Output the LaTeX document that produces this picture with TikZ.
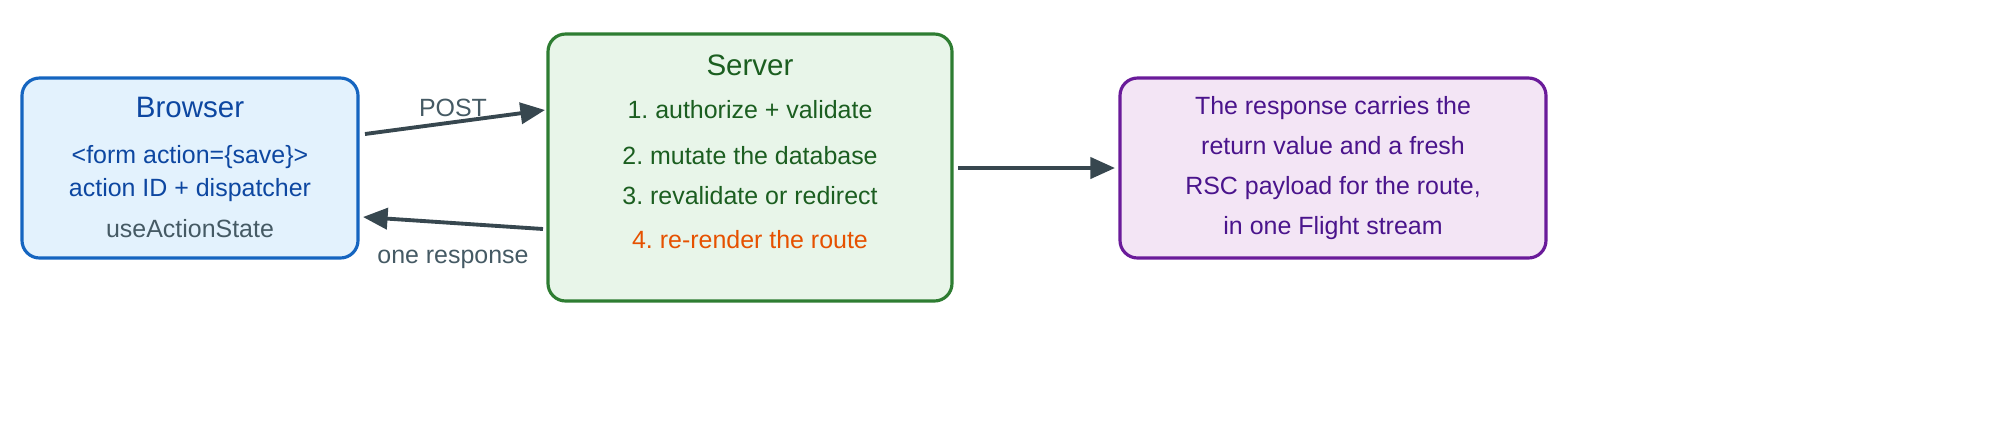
\documentclass[tikz,border=0pt]{standalone}
\usepackage{fontspec}
\setmainfont{Liberation Sans}
\usetikzlibrary{arrows.meta,positioning}
\definecolor{brfill}{HTML}{E3F2FD}\definecolor{brline}{HTML}{1565C0}\definecolor{brtext}{HTML}{0D47A1}
\definecolor{svfill}{HTML}{E8F5E9}\definecolor{svline}{HTML}{2E7D32}\definecolor{svtext}{HTML}{1B5E20}
\definecolor{rsfill}{HTML}{F3E5F5}\definecolor{rsline}{HTML}{6A1B9A}\definecolor{rstext}{HTML}{4A148C}
\definecolor{arr}{HTML}{37474F}\definecolor{grey}{HTML}{455A64}\definecolor{hot}{HTML}{E65100}
\frenchspacing
\begin{document}
\begin{tikzpicture}[
	box/.style={draw, line width=0.9pt, rounded corners=5pt},
	txt/.style={font=\fontsize{7.1}{8}\selectfont},
	ttl/.style={font=\fontsize{8.4}{10}\selectfont},
	flow/.style={draw=arr, line width=1.1pt, -{Triangle[length=7pt,width=6pt]}}]
	\useasboundingbox (0,0) rectangle (20,4.29);
	
	% boxes
	\node[box, draw=brline, fill=brfill, minimum width=3.36cm, minimum height=1.8cm] (browser) at (1.90,2.61) {};
	\node[box, draw=svline, fill=svfill, minimum width=4.04cm, minimum height=2.67cm] (server) at (7.50,2.615) {};
	\node[box, draw=rsline, fill=rsfill, minimum width=4.26cm, minimum height=1.8cm] (resp) at (13.33,2.61) {};
	
	% browser
	\node[ttl, text=brtext] at (1.90,3.22) {Browser};
	\node[txt, text=brtext] at (1.90,2.72) {<form action=\{save\}>};
	\node[txt, text=brtext] at (1.90,2.39) {action ID + dispatcher};
	\node[txt, text=grey] at (1.90,2.00) {useActionState};
	
	% server
	\node[ttl, text=svtext] at (7.50,3.64) {Server};
	\node[txt, text=svtext] at (7.50,3.19) {1. authorize + validate};
	\node[txt, text=svtext] at (7.50,2.73) {2. mutate the database};
	\node[txt, text=svtext] at (7.50,2.33) {3. revalidate or redirect};
	\node[txt, text=hot] at (7.50,1.89) {4. re-render the route};
	
	% response
	\node[txt, text=rstext, align=center, font=\fontsize{7.1}{11.4}\selectfont] at (13.33,2.61)
		{The response carries the\\return value and a fresh\\RSC payload for the route,\\in one Flight stream};
	
	% arrows
	\coordinate (p1) at (3.65,2.95); \coordinate (p2) at (5.45,3.19);
	\coordinate (r1) at (5.43,2.00); \coordinate (r2) at (3.63,2.12);
	\coordinate (s1) at (9.58,2.61); \coordinate (s2) at (11.15,2.61);
	\draw[flow] (p1) -- (p2);
	\draw[flow] (r1) -- (r2);
	\draw[flow] (s1) -- (s2);
	\node[txt, text=grey] at (4.53,3.21) {POST};
	\node[txt, text=grey] at (4.53,1.70) {one response};
\end{tikzpicture}
\end{document}
